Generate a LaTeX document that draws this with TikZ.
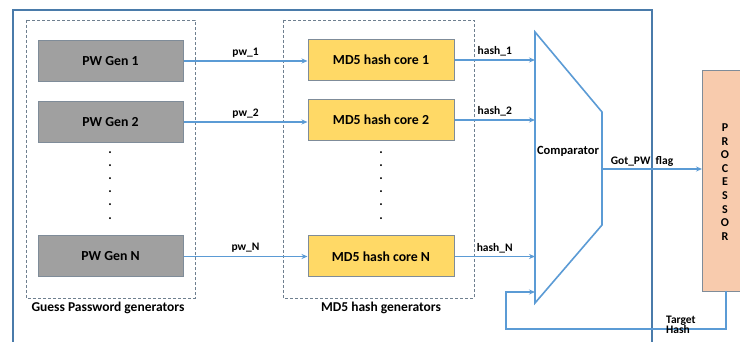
\documentclass[tikz,border=0pt]{standalone}
\usepackage{fontspec}
\setmainfont{Carlito}
\usetikzlibrary{arrows.meta}
\definecolor{wire}{HTML}{5B9BD5}
\definecolor{frame}{HTML}{4A7BAA}
\definecolor{boxedge}{HTML}{7F8C99}
\definecolor{genfill}{HTML}{A0A0A0}
\definecolor{corefill}{HTML}{FFD966}
\definecolor{procfill}{HTML}{F8CBAD}
\definecolor{dashc}{HTML}{6E7F8F}
\begin{document}
\begin{tikzpicture}[x=1pt,y=-1pt,
  font=\bfseries,
  genbox/.style={draw=boxedge,line width=1pt,fill=genfill,minimum width=145pt,minimum height=41pt,inner sep=0pt,font=\bfseries\fontsize{13.8}{15}\selectfont},
  corebox/.style={draw=boxedge,line width=1pt,fill=corefill,minimum width=146pt,minimum height=41pt,inner sep=0pt,font=\bfseries\fontsize{13.8}{15}\selectfont},
  grp/.style={draw=dashc,dashed,line width=0.8pt,dash pattern=on 3pt off 2pt},
  wireline/.style={draw=wire,line width=1.4pt},
  wirearrow/.style={wireline,-{Stealth[length=6pt,width=5pt]}},
  lbl/.style={font=\bfseries\fontsize{11.5}{13}\selectfont,inner sep=1pt},
  dotnode/.style={font=\bfseries\fontsize{13}{14}\selectfont,inner sep=0pt}
]
\useasboundingbox (0,0) rectangle (740,342);
\fill[white] (0,0) rectangle (740,342);
% outer frame
\draw[frame,line width=1.8pt] (13,345) -- (13,10) -- (652,10) -- (652,345);
% groups
\draw[grp] (26,20) rectangle (195,298);
\draw[grp] (283,20) rectangle (474,298);
\node[font=\bfseries\fontsize{13.5}{15}\selectfont] (glbl) at (108,308) {Guess Password generators};
\node[font=\bfseries\fontsize{13.5}{15}\selectfont] (mlbl) at (381,308) {MD5 hash generators};
% generators
\node[genbox] (g1) at (110.5,61) {PW Gen 1};
\node[genbox] (g2) at (110.5,122) {PW Gen 2};
\node[genbox] (gN) at (110.5,256.5) {PW Gen N};
\foreach \yy in {153,166,179,192,205,219} \node[dotnode] at (110,\yy) {.};
% cores
\node[corebox] (c1) at (381,60) {MD5 hash core 1};
\node[corebox] (c2) at (381,120) {MD5 hash core 2};
\node[corebox] (cN) at (381,256.5) {MD5 hash core N};
\foreach \yy in {153,166,179,192,205,219} \node[dotnode] at (381,\yy) {.};
% comparator
\draw[wire,line width=1.6pt,fill=white] (535,32) -- (602,112) -- (602,225) -- (535,303) -- cycle;
\node[lbl,font=\bfseries\fontsize{12.5}{14}\selectfont] (cmp) at (568,151) {Comparator};
\coordinate (in1) at (535,60);
\coordinate (in2) at (535,120);
\coordinate (inN) at (535,256.5);
\coordinate (inT) at (535,292);
\coordinate (out) at (602,169);
% processor
\node[draw=boxedge,line width=1pt,fill=procfill,minimum width=50pt,minimum height=221pt,inner sep=0pt,anchor=north west] (proc) at (702,70) {};
\node[align=center,font=\bfseries\fontsize{12}{13.6}\selectfont] (ptxt) at (725,182) {P\\R\\O\\C\\E\\S\\S\\O\\R};
% connectors
\draw[wirearrow] (g1.east) -- (c1.west |- g1.east) node[lbl,midway,above=2pt] {pw\_1};
\draw[wirearrow] (g2.east) -- (c2.west |- g2.east) node[lbl,midway,above=2pt] {pw\_2};
\draw[wirearrow] (gN.east) -- (cN.west |- gN.east) node[lbl,midway,above=2pt] {pw\_N};
\draw[wirearrow] (c1.east) -- (in1 |- c1.east) node[lbl,midway,above=2pt] {hash\_1};
\draw[wirearrow] (c2.east) -- (in2 |- c2.east) node[lbl,midway,above=2pt] {hash\_2};
\draw[wirearrow] (cN.east) -- (inN |- cN.east) node[lbl,midway,above=2pt] {hash\_N};
\draw[wirearrow] (out) -- (proc.west |- out) node[lbl,pos=0.4,above=1pt] {Got\_PW\ \ flag};
\coordinate (pb) at (726,291);
\draw[wirearrow] (pb) -- (726,329) -- (506,329) -- (506,292) -- (inT);
\node[lbl,align=left,anchor=north west] (tgt) at (665,315) {Target\\[-3pt]Hash};
\end{tikzpicture}
\end{document}
